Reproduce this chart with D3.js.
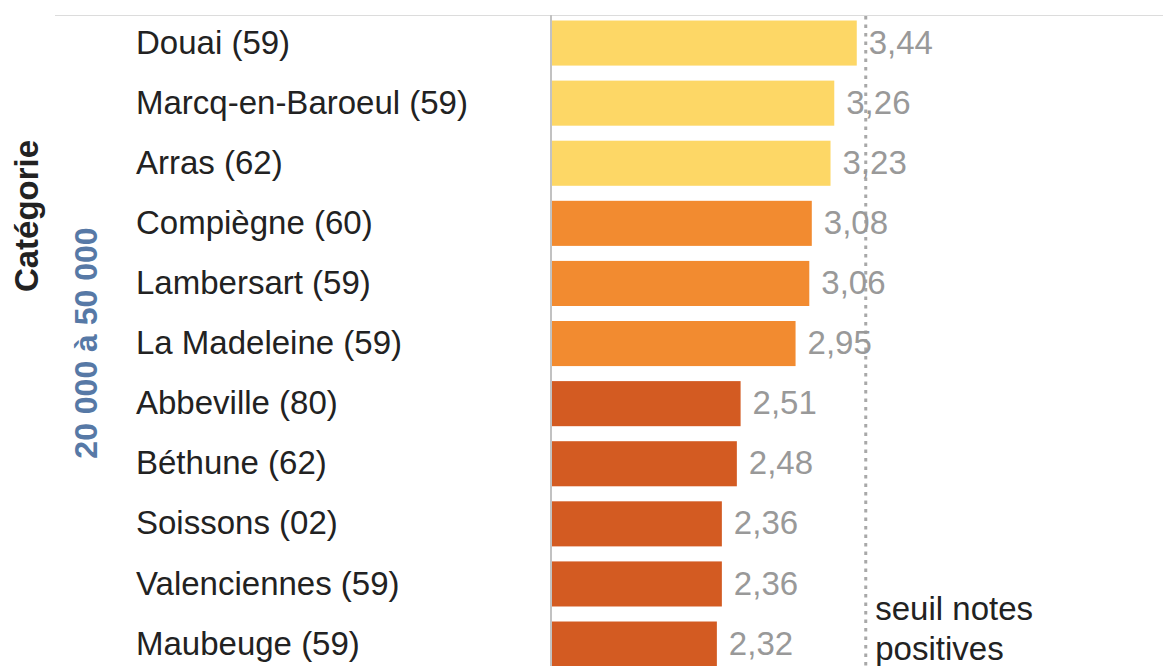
<!DOCTYPE html>
<html>
<head>
<meta charset="utf-8">
<script src="https://cdn.jsdelivr.net/npm/d3@7"></script>
<style>
  html, body { margin: 0; padding: 0; background: #fff; }
  svg { display: block; font-family: "Liberation Sans", Arial, Helvetica, sans-serif; }
</style>
</head>
<body>
<svg id="chart" width="1163" height="666"></svg>
<script>
const categories = ["Douai (59)", "Marcq-en-Baroeul (59)", "Arras (62)", "Compiègne (60)", "Lambersart (59)", "La Madeleine (59)", "Abbeville (80)", "Béthune (62)", "Soissons (02)", "Valenciennes (59)", "Maubeuge (59)"];
const values = [3.44, 3.26, 3.23, 3.08, 3.06, 2.95, 2.51, 2.48, 2.36, 2.36, 2.32];
const tiers = ["haut", "haut", "haut", "moyen", "moyen", "moyen", "bas", "bas", "bas", "bas", "bas"];
const tierNames = ["haut", "moyen", "bas"];
const tierColors = ["#fdd766", "#f28b30", "#d35b22"];
const threshold = 3.5;
const thresholdLabel = ["seuil notes", "positives"];
const rowHeader = "Catégorie";
const groupLabel = "20 000 à 50 000";

const svg = d3.select("#chart");
const W = 1163, H = 666;

const fr = d3.formatLocale({decimal: ",", thousands: " ", grouping: [3], currency: ["", " €"]});
const fmt = fr.format(".2f");

const x = d3.scaleLinear().domain([1, 6]).range([552, 552 + 5 * 124.9]);
const y = d3.scaleBand().domain(categories).range([13, 13 + categories.length * 60.1])
  .paddingInner(0.25).paddingOuter(0.125);
const color = d3.scaleOrdinal().domain(tierNames).range(tierColors);

const data = categories.map((c, i) => ({cat: c, value: values[i], tier: tiers[i]}));

// top rule
svg.append("line").attr("x1", 55).attr("x2", W).attr("y1", 15.5).attr("y2", 15.5)
  .attr("stroke", "#dcdcdc").attr("stroke-width", 1);

// bars
svg.append("g").selectAll("rect").data(data).join("rect")
  .attr("x", x(1))
  .attr("y", d => y(d.cat))
  .attr("width", d => x(d.value) - x(1))
  .attr("height", y.bandwidth())
  .attr("fill", d => color(d.tier));

// axis line
svg.append("line").attr("x1", 551).attr("x2", 551).attr("y1", 15).attr("y2", H)
  .attr("stroke", "#c2c2c2").attr("stroke-width", 2);

// threshold reference line
svg.append("line").attr("x1", x(threshold) + 1.5).attr("x2", x(threshold) + 1.5)
  .attr("y1", 16).attr("y2", H)
  .attr("stroke", "#a8a8a8").attr("stroke-width", 3).attr("stroke-dasharray", "3.5,5");

const fs = 33;

// category labels
svg.append("g").selectAll("text").data(data).join("text")
  .attr("x", 136)
  .attr("y", d => y(d.cat) + y.bandwidth() / 2)
  .attr("dy", "0.32em")
  .attr("font-size", fs)
  .attr("fill", "#222")
  .text(d => d.cat);

// value labels
svg.append("g").selectAll("text").data(data).join("text")
  .attr("x", d => x(d.value) + 12)
  .attr("y", d => y(d.cat) + y.bandwidth() / 2)
  .attr("dy", "0.32em")
  .attr("font-size", fs)
  .attr("fill", "#999")
  .text(d => fmt(d.value));

// threshold annotation
svg.append("g").selectAll("text").data(thresholdLabel).join("text")
  .attr("x", x(threshold) + 11)
  .attr("y", (d, i) => 620 + i * 40)
  .attr("font-size", fs)
  .attr("fill", "#222")
  .text(d => d);

// row header
svg.append("text")
  .attr("transform", "translate(38,216) rotate(-90)")
  .attr("text-anchor", "middle")
  .attr("font-size", fs)
  .attr("font-weight", "bold")
  .attr("fill", "#222")
  .text(rowHeader);

// group label
svg.append("text")
  .attr("transform", "translate(97,343) rotate(-90)")
  .attr("text-anchor", "middle")
  .attr("font-size", 32)
  .attr("font-weight", "bold")
  .attr("fill", "#5779a6")
  .text(groupLabel);
</script>
</body>
</html>
